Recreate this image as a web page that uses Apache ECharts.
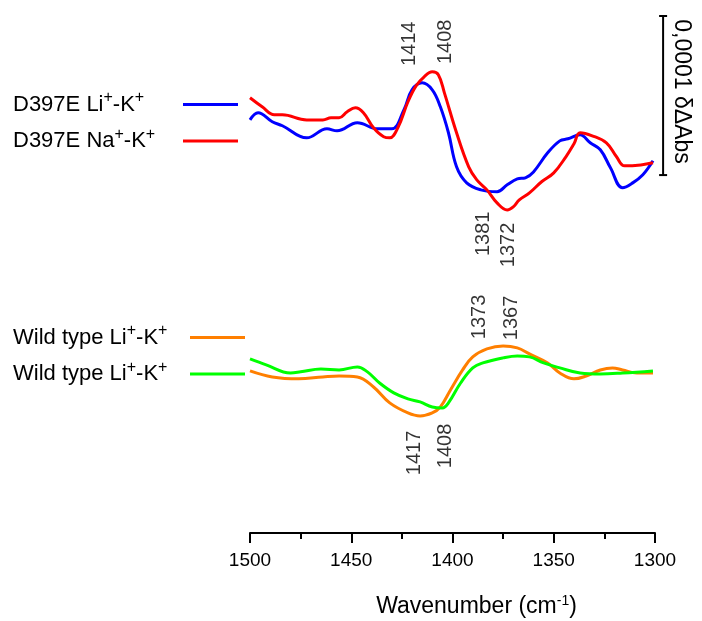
<!DOCTYPE html>
<html>
<head>
<meta charset="utf-8">
<script src="https://cdn.jsdelivr.net/npm/echarts@6/dist/echarts.min.js"></script>
<style>
html, body { margin: 0; padding: 0; background: #fff; }
#main { width: 702px; height: 621px; }
</style>
</head>
<body>
<div id="main"></div>
<script>
// y values in units of 1e-5 ΔAbs, spectra stacked with an offset
var d397eLi = [[1500,25.97],[1496,26.42],[1489,25.85],[1484,25.60],[1472,24.84],[1462,25.41],[1457,25.28],[1447,25.79],[1437,25.41],[1430,25.41],[1424,26.60],[1420,27.86],[1415,28.30],[1410,27.86],[1406,26.79],[1402,25.16],[1398,23.02],[1393,22.01],[1386,21.57],[1378,21.45],[1373,21.89],[1368,22.26],[1364,22.33],[1360,22.70],[1353,23.90],[1347,24.65],[1343,24.78],[1337,25.03],[1332,24.53],[1327,24.09],[1322,22.96],[1316,21.70],[1311,22.01],[1306,22.52],[1301,23.40]];
var d397eNa = [[1500,27.36],[1494,26.79],[1488,26.29],[1484,26.29],[1472,25.97],[1464,25.97],[1460,26.10],[1456,26.10],[1452,26.48],[1448,26.73],[1444,26.42],[1439,25.47],[1434,24.91],[1431,24.84],[1427,25.47],[1422,27.11],[1418,28.11],[1414,28.68],[1410,28.99],[1407,28.81],[1404,27.67],[1398,25.16],[1392,23.02],[1388,22.20],[1383,21.57],[1378,20.75],[1373,20.31],[1370,20.50],[1367,20.94],[1362,21.38],[1356,22.08],[1350,22.64],[1344,23.65],[1340,24.47],[1337,25.16],[1331,24.97],[1324,24.53],[1319,23.65],[1315,23.08],[1307,23.14],[1301,23.27]];
var wtLiA = [[1500,10.19],[1489,9.81],[1476,9.69],[1464,9.81],[1456,9.87],[1447,9.81],[1439,9.18],[1431,8.18],[1422,7.55],[1416,7.36],[1410,7.55],[1406,7.92],[1401,8.99],[1395,10.25],[1390,11.07],[1383,11.57],[1375,11.76],[1368,11.64],[1362,11.26],[1353,10.69],[1347,10.06],[1340,9.69],[1334,9.87],[1327,10.25],[1321,10.38],[1316,10.25],[1309,10.06],[1301,10.06]];
var wtLiB = [[1500,10.94],[1492,10.57],[1480,10.06],[1475,10.13],[1465,10.31],[1456,10.25],[1447,10.44],[1442,10.13],[1436,9.43],[1429,8.81],[1422,8.43],[1416,8.24],[1410,7.92],[1405,7.86],[1402,8.18],[1396,9.43],[1390,10.38],[1385,10.69],[1375,11.01],[1368,11.13],[1362,11.07],[1355,10.69],[1347,10.38],[1337,10.06],[1327,10.00],[1316,10.06],[1301,10.19]];

var peakLabels = [
  {text: '1414', x: 1421, y: 30.75},
  {text: '1408', x: 1403.7, y: 30.88},
  {text: '1381', x: 1384.9, y: 18.81},
  {text: '1372', x: 1372.6, y: 18.11},
  {text: '1373', x: 1386.9, y: 13.58},
  {text: '1367', x: 1371.1, y: 13.52},
  {text: '1417', x: 1419, y: 5.03},
  {text: '1408', x: 1403.7, y: 5.47}
];

var legendText = {
  'D397E Li': '{t|D397E Li}{sup|+}{t|-K}{sup|+}',
  'D397E Na': '{t|D397E Na}{sup|+}{t|-K}{sup|+}',
  'WT Li a': '{t|Wild type Li}{sup|+}{t|-K}{sup|+}',
  'WT Li b': '{t|Wild type Li}{sup|+}{t|-K}{sup|+}'
};

var scaleBar = {x: 1296, top: 32.5, length: 10, label: '0,0001 δΔAbs', labelX: 1287};

var FONT = '"Liberation Sans", Arial, sans-serif';

var myChart = echarts.init(document.getElementById('main'));

function legendOpt(names, top, width) {
  return {
    data: names,
    orient: 'vertical',
    left: 13,
    top: top,
    padding: 0,
    align: 'right',
    icon: 'rect',
    itemWidth: 55,
    itemHeight: 3,
    itemGap: 11,
    selectedMode: false,
    formatter: function (name) { return legendText[name]; },
    textStyle: {
      width: width,
      color: '#000',
      fontFamily: FONT,
      fontSize: 22,
      rich: {
        t: {fontSize: 22, lineHeight: 24, align: 'left', fontFamily: FONT, color: '#000'},
        sup: {fontSize: 16, height: 11, lineHeight: 11, verticalAlign: 'top', align: 'left', fontFamily: FONT, color: '#000'}
      }
    }
  };
}

function lineSeries(name, data, color) {
  return {
    name: name,
    type: 'line',
    data: data,
    smooth: 0.4,
    symbol: 'none',
    lineStyle: {color: color, width: 3},
    itemStyle: {color: color}
  };
}

var option = {
  animation: false,
  backgroundColor: '#fff',
  grid: {left: 250, right: 47, top: 16, bottom: 88, outerBoundsMode: 'none'},
  legend: [
    legendOpt(['D397E Li', 'D397E Na'], 90, 165),
    legendOpt(['WT Li a', 'WT Li b'], 323, 172)
  ],
  xAxis: {
    type: 'value',
    min: 1300,
    max: 1500,
    interval: 50,
    inverse: true,
    axisLine: {lineStyle: {color: '#000', width: 2}},
    axisTick: {length: 10, lineStyle: {color: '#000', width: 2}},
    minorTick: {show: true, splitNumber: 2, length: 6, lineStyle: {color: '#000', width: 2}},
    splitLine: {show: false},
    axisLabel: {fontSize: 19, color: '#000', margin: 18, fontFamily: FONT, formatter: function (v) { return String(v); }},
    name: '{t|Wavenumber (cm}{sup|-1}{t|)}',
    nameLocation: 'middle',
    nameGap: 61,
    nameTextStyle: {
      fontSize: 23, color: '#000', fontFamily: FONT, padding: [0, 0, 0, 48],
      rich: {
        t: {fontSize: 23, lineHeight: 26, fontFamily: FONT, color: '#000'},
        sup: {fontSize: 14, lineHeight: 4, verticalAlign: 'top', fontFamily: FONT, color: '#000'}
      }
    }
  },
  yAxis: {type: 'value', min: 0, max: 32.5, show: false},
  series: [
    lineSeries('D397E Li', d397eLi, '#0000ff'),
    lineSeries('D397E Na', d397eNa, '#ff0000'),
    lineSeries('WT Li a', wtLiA, '#ff7f00'),
    lineSeries('WT Li b', wtLiB, '#00ff00'),
    {
      type: 'scatter',
      silent: true,
      symbolSize: 1,
      itemStyle: {color: 'rgba(0,0,0,0)'},
      data: peakLabels.map(function (p) { return {name: p.text, value: [p.x, p.y]}; }),
      label: {show: true, position: 'inside', rotate: 90, formatter: '{b}', fontSize: 20, color: '#000', textBorderWidth: 0, fontFamily: FONT}
    }
  ]
};

myChart.setOption(option);

// scale bar on the right, placed through the chart's own coordinate system
var pTop = myChart.convertToPixel({gridIndex: 0}, [scaleBar.x, scaleBar.top]);
var pBot = myChart.convertToPixel({gridIndex: 0}, [scaleBar.x, scaleBar.top - scaleBar.length]);
var pTxt = myChart.convertToPixel({gridIndex: 0}, [scaleBar.labelX, scaleBar.top - scaleBar.length / 2]);
var lineStyle = {stroke: '#000', lineWidth: 2};
myChart.setOption({
  graphic: [
    {type: 'line', shape: {x1: pTop[0], y1: pTop[1], x2: pBot[0], y2: pBot[1]}, style: lineStyle},
    {type: 'line', shape: {x1: pTop[0] - 4, y1: pTop[1], x2: pTop[0] + 4, y2: pTop[1]}, style: lineStyle},
    {type: 'line', shape: {x1: pBot[0] - 4, y1: pBot[1], x2: pBot[0] + 4, y2: pBot[1]}, style: lineStyle},
    {
      type: 'text', x: pTxt[0], y: pTxt[1] - 4, rotation: -Math.PI / 2,
      style: {text: scaleBar.label, fontSize: 23, fontFamily: FONT, fill: '#000', align: 'center', verticalAlign: 'middle'}
    }
  ]
});
</script>
</body>
</html>
